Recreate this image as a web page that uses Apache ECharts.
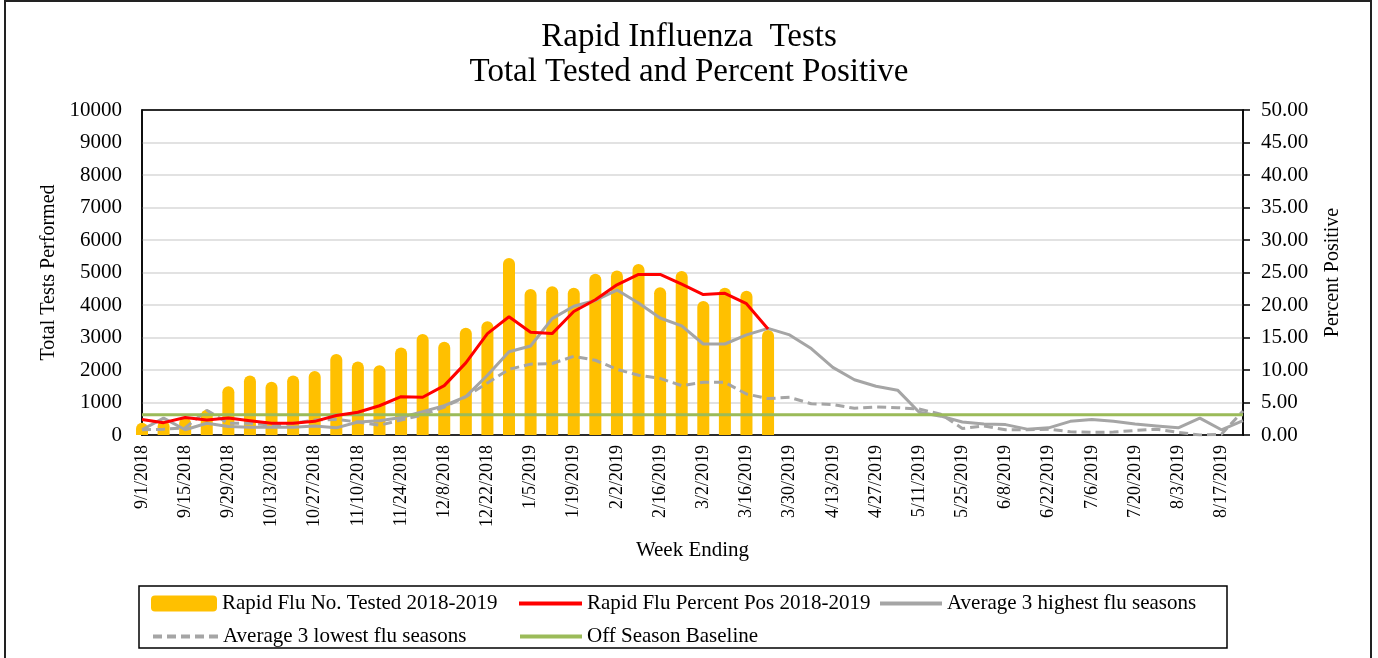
<!DOCTYPE html>
<html>
<head>
<meta charset="utf-8">
<title>Rapid Influenza Tests</title>
<script src="https://cdn.jsdelivr.net/npm/echarts@6/dist/echarts.min.js"></script>
<style>
    html, body { margin: 0; padding: 0; background: #fff; }
    #box { width: 1378px; height: 658px; }
</style>
</head>
<body>
<div id="box"></div>
<script>
// week ending dates
var weeks = ['9/1/2018', '9/8/2018', '9/15/2018', '9/22/2018', '9/29/2018', '10/6/2018', '10/13/2018',
    '10/20/2018', '10/27/2018', '11/3/2018', '11/10/2018', '11/17/2018', '11/24/2018', '12/1/2018',
    '12/8/2018', '12/15/2018', '12/22/2018', '12/29/2018', '1/5/2019', '1/12/2019', '1/19/2019',
    '1/26/2019', '2/2/2019', '2/9/2019', '2/16/2019', '2/23/2019', '3/2/2019', '3/9/2019', '3/16/2019',
    '3/23/2019', '3/30/2019', '4/6/2019', '4/13/2019', '4/20/2019', '4/27/2019', '5/4/2019', '5/11/2019',
    '5/18/2019', '5/25/2019', '6/1/2019', '6/8/2019', '6/15/2019', '6/22/2019', '6/29/2019', '7/6/2019',
    '7/13/2019', '7/20/2019', '7/27/2019', '8/3/2019', '8/10/2019', '8/17/2019', '8/24/2019'];

// number tested 2018-2019 (season data stops at 3/23)
var tested = [380, 450, 540, 780, 1500, 1830, 1640, 1830, 1970, 2490, 2260, 2150, 2690, 3110,
    2870, 3300, 3500, 5450, 4490, 4580, 4530, 4960, 5060, 5260, 4550, 5050, 4120, 4530, 4440, 3230,
    null, null, null, null, null, null, null, null, null, null, null, null, null, null, null, null,
    null, null, null, null, null, null];

// percent positive 2018-2019
var pctPos = [2.4, 1.9, 2.7, 2.3, 2.6, 2.2, 1.8, 1.8, 2.1, 3.0, 3.5, 4.5, 5.9, 5.8, 7.6, 11.1,
    15.6, 18.2, 15.8, 15.6, 19.0, 20.8, 23.1, 24.7, 24.7, 23.2, 21.6, 21.8, 20.2, 16.3,
    null, null, null, null, null, null, null, null, null, null, null, null, null, null, null, null,
    null, null, null, null, null, null];

// average of 3 highest seasons
var avgHigh = [0.8, 2.6, 0.8, 1.8, 1.3, 1.2, 1.2, 1.2, 1.4, 1.1, 2.0, 2.2, 2.7, 3.6, 4.5, 5.9,
    9.2, 12.8, 13.7, 17.9, 19.8, 20.7, 22.3, 20.3, 18.0, 16.8, 14.0, 14.0, 15.4, 16.4, 15.4, 13.3,
    10.4, 8.5, 7.5, 6.9, 3.5, 2.9, 2.0, 1.7, 1.6, 0.9, 1.1, 2.1, 2.4, 2.1, 1.7, 1.4, 1.1, 2.6, 0.8, 2.2];

// average of 3 lowest seasons
var avgLow = [0.8, 0.9, 1.1, 3.8, 1.8, 1.8, 1.5, 1.8, 2.3, 2.4, 2.0, 1.5, 2.3, 3.1, 4.3, 5.9,
    8.0, 10.1, 10.9, 11.0, 12.1, 11.5, 10.1, 9.2, 8.7, 7.6, 8.1, 8.1, 6.3, 5.6, 5.8, 4.8,
    4.7, 4.1, 4.3, 4.2, 4.0, 3.2, 1.0, 1.4, 0.8, 0.8, 0.9, 0.5, 0.4, 0.45, 0.7, 0.9, 0.4, 0.0, 0.1, 3.7];

// off season baseline (percent)
var baseline = [];
for (var i = 0; i < weeks.length; i++) {
    baseline.push(3.1);
}

var names = ['Rapid Flu No. Tested 2018-2019', 'Rapid Flu Percent Pos 2018-2019',
    'Average 3 highest flu seasons', 'Average 3 lowest flu seasons', 'Off Season Baseline'];

var font = "'Liberation Serif', 'Times New Roman', serif";

function legendItem(name, left, top, w, isLine) {
    var lg = {
        data: [name],
        left: left,
        top: top,
        padding: 0,
        itemWidth: w,
        itemHeight: 16,
        selectedMode: false,
        textStyle: { fontFamily: font, fontSize: 21, color: '#000' }
    };
    if (isLine) {
        // hide the marker dot, keep a thick line
        lg.itemStyle = { opacity: 0 };
        lg.lineStyle = { width: 4 };
    }
    return lg;
}

var myChart = echarts.init(document.getElementById('box'));
var option = {
    backgroundColor: '#fff',
    animation: false,
    title: {
        text: 'Rapid Influenza  Tests\nTotal Tested and Percent Positive',
        left: 'center',
        top: 15,
        textStyle: { fontFamily: font, fontSize: 33, fontWeight: 'normal', lineHeight: 35, color: '#000' }
    },
    legend: [
        legendItem(names[0], 151, 593, 66, false),
        legendItem(names[1], 517, 593, 63, true),
        legendItem(names[2], 878, 593, 62, true),
        legendItem(names[3], 151, 626, 65, true),
        legendItem(names[4], 518, 626, 62, true)
    ],
    grid: { left: 142, top: 110, width: 1101, height: 325, show: true, borderColor: '#000', borderWidth: 1.5 },
    xAxis: {
        type: 'category',
        data: weeks,
        boundaryGap: false,
        name: 'Week Ending',
        nameLocation: 'middle',
        nameGap: 105,
        nameTextStyle: { fontFamily: font, fontSize: 21, color: '#000' },
        axisLine: { lineStyle: { color: '#000', width: 1.5 } },
        axisTick: { show: false },
        axisLabel: { rotate: 90, interval: 1, margin: 10, fontFamily: font, fontSize: 18, color: '#000' }
    },
    yAxis: [
        {
            type: 'value',
            min: 0,
            max: 10000,
            interval: 1000,
            name: 'Total Tests Performed',
            nameLocation: 'middle',
            nameGap: 80,
            nameTextStyle: { fontFamily: font, fontSize: 20, color: '#000' },
            axisLine: { show: true, lineStyle: { color: '#000', width: 1.5 } },
            axisTick: { show: false },
            axisLabel: {
                margin: 20, fontFamily: font, fontSize: 21, color: '#000',
                formatter: function (v) { return String(v); }
            },
            splitLine: { lineStyle: { color: '#d9d9d9', width: 1.5 } }
        },
        {
            type: 'value',
            position: 'right',
            min: 0,
            max: 50,
            interval: 5,
            name: 'Percent Positive',
            nameLocation: 'middle',
            nameGap: 80,
            nameTextStyle: { fontFamily: font, fontSize: 20, color: '#000' },
            axisLine: { show: true, lineStyle: { color: '#000', width: 1.5 } },
            axisTick: { show: true, length: 7, lineStyle: { color: '#000', width: 1.5 } },
            axisLabel: {
                margin: 18, fontFamily: font, fontSize: 21, color: '#000',
                formatter: function (v) { return v.toFixed(2); }
            },
            splitLine: { show: false }
        }
    ],
    series: [
        {
            name: names[0],
            type: 'bar',
            yAxisIndex: 0,
            barWidth: 12,
            data: tested,
            itemStyle: { color: '#ffc000', borderRadius: [6, 6, 0, 0] }
        },
        {
            name: names[2],
            type: 'line',
            yAxisIndex: 1,
            data: avgHigh,
            symbol: 'none',
            lineStyle: { color: '#a5a5a5', width: 3 },
            itemStyle: { color: '#a5a5a5' }
        },
        {
            name: names[3],
            type: 'line',
            yAxisIndex: 1,
            data: avgLow,
            symbol: 'none',
            lineStyle: { color: '#a5a5a5', width: 3, type: [9, 5] },
            itemStyle: { color: '#a5a5a5' }
        },
        {
            name: names[4],
            type: 'line',
            yAxisIndex: 1,
            data: baseline,
            symbol: 'none',
            lineStyle: { color: '#9bbb59', width: 3 },
            itemStyle: { color: '#9bbb59' }
        },
        {
            name: names[1],
            type: 'line',
            yAxisIndex: 1,
            data: pctPos,
            symbol: 'none',
            lineStyle: { color: '#ff0000', width: 3 },
            itemStyle: { color: '#ff0000' }
        }
    ],
    graphic: [
        // outer chart frame
        {
            type: 'rect',
            shape: { x: 5, y: 1, width: 1366, height: 700 },
            style: { fill: null, stroke: '#222', lineWidth: 2 },
            silent: true
        },
        // dark top edge of the plot area
        {
            type: 'line',
            shape: { x1: 142, y1: 110, x2: 1243, y2: 110 },
            style: { stroke: '#000', lineWidth: 1.5 },
            z: 10,
            silent: true
        },
        // legend box
        {
            type: 'rect',
            shape: { x: 139, y: 586, width: 1088, height: 62 },
            style: { fill: null, stroke: '#000', lineWidth: 1.5 },
            silent: true
        }
    ]
};
myChart.setOption(option);
</script>
</body>
</html>
